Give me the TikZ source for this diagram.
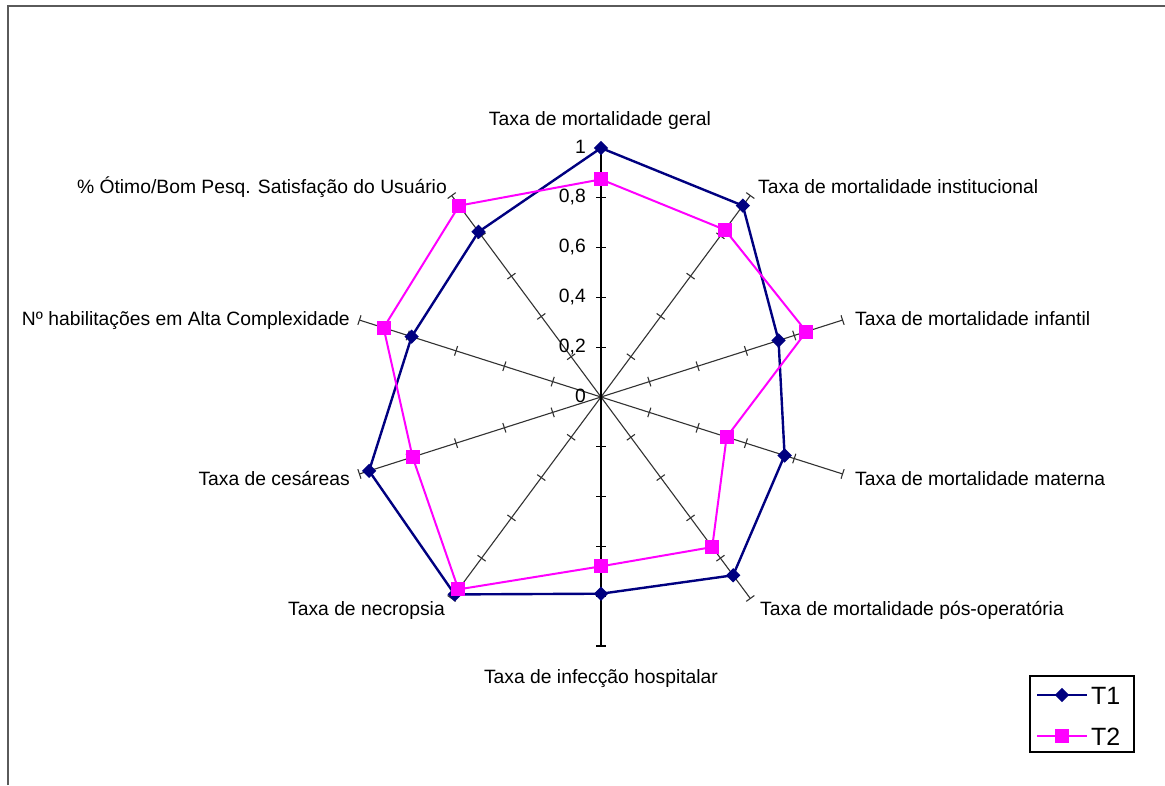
\documentclass[tikz,border=0pt]{standalone}
\usepackage{fontspec}
\setmainfont{Liberation Sans}
\usetikzlibrary{shapes.geometric}
\definecolor{tnavy}{RGB}{0,0,128}
\definecolor{tmag}{RGB}{255,0,255}
\definecolor{axgray}{RGB}{50,50,50}
\definecolor{framegray}{RGB}{90,90,90}
\begin{document}
\begin{tikzpicture}[x=1pt,y=-1pt,
  lbl/.style={font=\fontsize{19.3}{23}\selectfont, inner sep=0pt},
  leglbl/.style={font=\fontsize{25}{29}\selectfont, inner sep=0pt},
  axisline/.style={draw=axgray, line width=1.1pt},
  vaxis/.style={draw=black, line width=1.5pt},
  tickmark/.style={draw=axgray, line width=1.1pt},
  vtick/.style={draw=black, line width=1.3pt},
  frameline/.style={draw=framegray, line width=1.6pt},
  tonel/.style={draw=tnavy, line width=2.4pt, line join=miter},
  ttwol/.style={draw=tmag, line width=2pt, line join=miter},
  dmark/.style={diamond, fill=tnavy, inner sep=0pt, minimum width=14.5pt, minimum height=14.5pt},
  smark/.style={rectangle, fill=tmag, inner sep=0pt, minimum size=14pt}]
\useasboundingbox (0,0) rectangle (1165,785);
\fill[white] (0,0) rectangle (1165,785);
\draw[frameline] (8,785) -- (8,6) -- (1165,6);

% centre and axes
\coordinate (ctr) at (601,397);
\foreach \i in {0,...,9} {
  \pgfmathsetmacro\th{36*\i}
  \coordinate (e\i) at ({601+254*sin(\th)},{397-249*cos(\th)});
}
\foreach \i in {1,2,3,4,6,7,8,9} {
  \draw[axisline] (ctr) -- (e\i);
  \foreach \k in {1,...,5} {
    \pgfmathsetmacro\th{36*\i}
    \pgfmathsetmacro\px{601+254*0.2*\k*sin(\th)}
    \pgfmathsetmacro\py{397-249*0.2*\k*cos(\th)}
    \draw[tickmark] ({\px-5*cos(\th)},{\py-5*sin(\th)}) -- ({\px+5*cos(\th)},{\py+5*sin(\th)});
  }
}
\draw[vaxis] (e0) -- (e5);
\foreach \k in {1,...,5} {
  \draw[vtick] (596,{397-249*0.2*\k}) -- (606,{397-249*0.2*\k});
  \draw[vtick] (596,{397+249*0.2*\k}) -- (606,{397+249*0.2*\k});
}
% value labels
\foreach \k/\t in {0/0,1/{0,2},2/{0,4},3/{0,6},4/{0,8},5/1} {
  \node[lbl, anchor=base east] (v\k) at (586,{397-249*0.2*\k+5}) {\t};
}

% category labels
\node[lbl, anchor=base] (L0) at (600,125) {Taxa de mortalidade geral};
\node[lbl, anchor=base west] (L1) at (758,193) {Taxa de mortalidade institucional};
\node[lbl, anchor=base west] (L2) at (855,325) {Taxa de mortalidade infantil};
\node[lbl, anchor=base west] (L3) at (855,485) {Taxa de mortalidade materna};
\node[lbl, anchor=base west] (L4) at (760,615) {Taxa de mortalidade pós-operatória};
\node[lbl, anchor=base] (L5) at (601,683) {Taxa de infecção hospitalar};
\node[lbl, anchor=base east] (L6) at (445,615) {Taxa de necropsia};
\node[lbl, anchor=base east] (L7) at (350,485) {Taxa de cesáreas};
\node[lbl, anchor=base east] (L8) at (350,325) {Nº habilitações em Alta Complexidade};
\node[lbl, anchor=base east] (L9) at (447,193) {\% Ótimo/Bom Pesq. Satisfação do Usuário};

% data
\foreach \v [count=\i from 0] in {1.0,0.95,0.735,0.76,0.885,0.79,0.98,0.96,0.784,0.82} {
  \coordinate (p\i) at ({601+254*\v*sin(36*\i)},{397-249*\v*cos(36*\i)});
}
\foreach \v [count=\i from 0] in {0.874,0.83,0.85,0.52,0.745,0.68,0.955,0.78,0.9,0.95} {
  \coordinate (q\i) at ({601+254*\v*sin(36*\i)},{397-249*\v*cos(36*\i)});
}
\draw[tonel] (p0) -- (p1) -- (p2) -- (p3) -- (p4) -- (p5) -- (p6) -- (p7) -- (p8) -- (p9) -- cycle;
\foreach \i in {0,...,9} { \node[dmark] (m\i) at (p\i) {}; }
\draw[ttwol] (q0) -- (q1) -- (q2) -- (q3) -- (q4) -- (q5) -- (q6) -- (q7) -- (q8) -- (q9) -- cycle;
\foreach \i in {0,...,9} { \node[smark] (n\i) at (q\i) {}; }

% legend
\draw[black, line width=1.1pt] (1030,676) rectangle (1134,752);
\coordinate (la1) at (1037,695);
\coordinate (lb1) at (1087,695);
\coordinate (la2) at (1037,736);
\coordinate (lb2) at (1087,736);
\draw[tonel] (la1) -- (lb1);
\node[dmark] (lm1) at (1062,695) {};
\draw[ttwol] (la2) -- (lb2);
\node[smark] (lm2) at (1062,736) {};
\node[leglbl, anchor=base west] (lt1) at (1091,704) {T1};
\node[leglbl, anchor=base west] (lt2) at (1091,745) {T2};
\end{tikzpicture}
\end{document}
